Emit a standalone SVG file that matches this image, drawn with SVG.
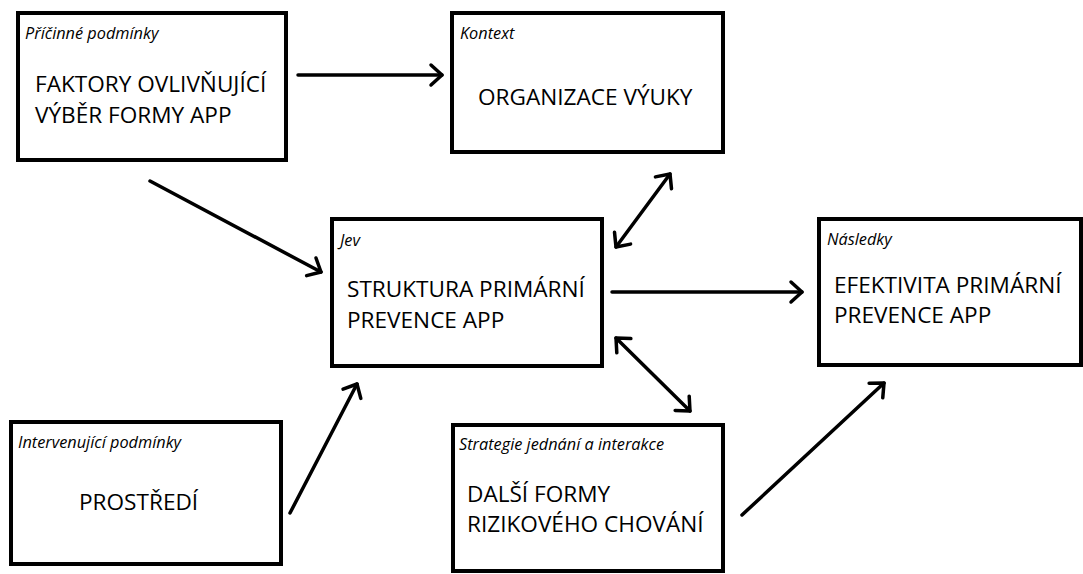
<svg xmlns="http://www.w3.org/2000/svg" width="1083" height="574" viewBox="0 0 1083 574">
<style>
.box{fill:#fff;stroke:#000;stroke-width:4}
.lbl{font-family:"Open Sans","Liberation Sans",sans-serif;font-style:italic;font-size:16.3px;fill:#000}
.main{font-family:"Open Sans","Liberation Sans",sans-serif;font-size:22.6px;fill:#000}
.conn{stroke:#000;stroke-width:3.5;fill:none;stroke-linecap:round}
</style>
<defs>
<marker id="ah" markerUnits="userSpaceOnUse" viewBox="-14 -14 18 28" refX="0" refY="0" markerWidth="18" markerHeight="28" orient="auto-start-reverse">
<path d="M-11,-10 L0,0 L-11,10" fill="none" stroke="#000" stroke-width="3.5" stroke-linecap="round" stroke-linejoin="round"/>
</marker>
</defs>
<rect width="1083" height="574" fill="#fff"/>
<g id="n1">
<rect class="box" x="18" y="13" width="268" height="147"/>
<text class="lbl" x="25" y="39">Příčinné podmínky</text>
<text class="main" x="35" y="92">FAKTORY OVLIVŇUJÍCÍ</text>
<text class="main" x="35" y="123">VÝBĚR FORMY APP</text>
</g>
<g id="n2">
<rect class="box" x="452" y="13" width="271" height="139"/>
<text class="lbl" x="460" y="39">Kontext</text>
<text class="main" x="478" y="105">ORGANIZACE VÝUKY</text>
</g>
<g id="n3">
<rect class="box" x="332" y="219" width="270" height="147"/>
<text class="lbl" x="340" y="246">Jev</text>
<text class="main" x="347" y="297">STRUKTURA PRIMÁRNÍ</text>
<text class="main" x="347" y="328">PREVENCE APP</text>
</g>
<g id="n4">
<rect class="box" x="819" y="219" width="262" height="146"/>
<text class="lbl" x="827" y="245">Následky</text>
<text class="main" x="834" y="293">EFEKTIVITA PRIMÁRNÍ</text>
<text class="main" x="834" y="323">PREVENCE APP</text>
</g>
<g id="n5">
<rect class="box" x="11" y="422" width="270" height="142"/>
<text class="lbl" x="18" y="448">Intervenující podmínky</text>
<text class="main" x="79" y="510">PROSTŘEDÍ</text>
</g>
<g id="n6">
<rect class="box" x="453" y="425" width="270" height="146"/>
<text class="lbl" x="459" y="450">Strategie jednání a interakce</text>
<text class="main" x="467" y="502">DALŠÍ FORMY</text>
<text class="main" x="467" y="532">RIZIKOVÉHO CHOVÁNÍ</text>
</g>
<g id="connectors">
<line class="conn" x1="298" y1="75" x2="442" y2="75" marker-end="url(#ah)"/>
<line class="conn" x1="150" y1="181" x2="321" y2="272" marker-end="url(#ah)"/>
<line class="conn" x1="290" y1="513" x2="357" y2="384" marker-end="url(#ah)"/>
<line class="conn" x1="616" y1="247" x2="670" y2="174" marker-start="url(#ah)" marker-end="url(#ah)"/>
<line class="conn" x1="612" y1="292" x2="802" y2="292" marker-end="url(#ah)"/>
<line class="conn" x1="616" y1="338" x2="690" y2="411" marker-start="url(#ah)" marker-end="url(#ah)"/>
<line class="conn" x1="742" y1="515" x2="884" y2="383" marker-end="url(#ah)"/>
</g>
</svg>
